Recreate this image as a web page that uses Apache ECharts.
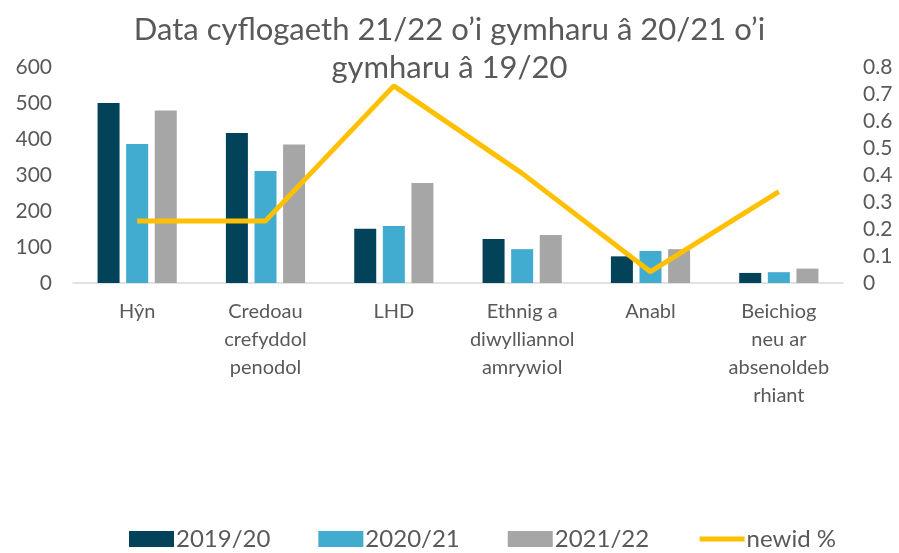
<!DOCTYPE html>
<html style="height: 100%">
<head>
    <meta charset="utf-8">
    <title>Data cyflogaeth</title>
    <script type="text/javascript" src="https://cdn.jsdelivr.net/npm/echarts@6/dist/echarts.min.js"></script>
</head>
<body style="width: 100%;margin: 0;height: 100%;background: #fff">
<div id="container" style="width: 899px;height: 553px"></div>
<script type="application/javascript">

    var categories = ['Hŷn', 'Credoau\ncrefyddol\npenodol', 'LHD', 'Ethnig a\ndiwylliannol\namrywiol', 'Anabl', 'Beichiog\nneu ar\nabsenoldeb\nrhiant'];
    var data1920 = [500, 417, 151, 122, 74, 28];
    var data2021 = [386, 311, 158, 94, 89, 30];
    var data2122 = [479, 385, 278, 133, 94, 40];
    var newid = [0.23, 0.23, 0.73, 0.406, 0.042, 0.338];

    var textColor = '#595959';
    var font = 'Lato';

    var dom = document.getElementById("container");
    var myChart = echarts.init(dom);

    var option = {
        animation: false,
        title: {
            text: 'Data cyflogaeth 21/22 o\u2019i gymharu â 20/21 o\u2019i\ngymharu â 19/20',
            left: 'center',
            top: 6,
            textStyle: {
                color: textColor,
                fontFamily: font,
                fontWeight: 'normal',
                fontSize: 31,
                lineHeight: 38
            }
        },
        legend: {
            bottom: -3,
            left: 124,
            itemWidth: 45,
            itemHeight: 16,
            itemGap: 48,
            textStyle: {
                color: textColor,
                fontFamily: font,
                fontSize: 24,
                padding: [0, 0, 0, -3]
            },
            data: [
                {name: '2019/20', icon: 'rect'},
                {name: '2020/21', icon: 'rect'},
                {name: '2021/22', icon: 'rect'},
                {name: 'newid %', itemStyle: {opacity: 0}, lineStyle: {width: 5, color: '#ffc000'}}
            ]
        },
        grid: {
            left: 73,
            right: 56,
            top: 67,
            bottom: 270
        },
        xAxis: {
            type: 'category',
            data: categories,
            axisTick: {show: false},
            axisLine: {lineStyle: {color: '#d9d9d9', width: 1.5}},
            axisLabel: {
                color: textColor,
                fontFamily: font,
                fontSize: 20,
                lineHeight: 28,
                margin: 15,
                interval: 0
            }
        },
        yAxis: [
            {
                type: 'value',
                min: 0,
                max: 600,
                interval: 100,
                splitLine: {show: false},
                axisLine: {show: false},
                axisLabel: {color: textColor, fontFamily: font, fontSize: 21, margin: 21}
            },
            {
                type: 'value',
                min: 0,
                max: 0.8,
                interval: 0.1,
                splitLine: {show: false},
                axisLine: {show: false},
                axisLabel: {
                    color: textColor, fontFamily: font, fontSize: 21, margin: 20,
                    formatter: function (v) { return v === 0 ? '0' : v.toFixed(1); }
                }
            }
        ],
        series: [
            {
                name: '2019/20',
                type: 'bar',
                data: data1920,
                barWidth: 22,
                barGap: '30%',
                itemStyle: {color: '#02435a'}
            },
            {
                name: '2020/21',
                type: 'bar',
                data: data2021,
                barWidth: 22,
                barGap: '30%',
                itemStyle: {color: '#41abd0'}
            },
            {
                name: '2021/22',
                type: 'bar',
                data: data2122,
                barWidth: 22,
                barGap: '30%',
                itemStyle: {color: '#a6a6a6'}
            },
            {
                name: 'newid %',
                type: 'line',
                yAxisIndex: 1,
                data: newid,
                symbol: 'none',
                lineStyle: {color: '#ffc000', width: 5},
                itemStyle: {color: '#ffc000'}
            }
        ]
    };

    myChart.setOption(option);
</script>
</body>
</html>
